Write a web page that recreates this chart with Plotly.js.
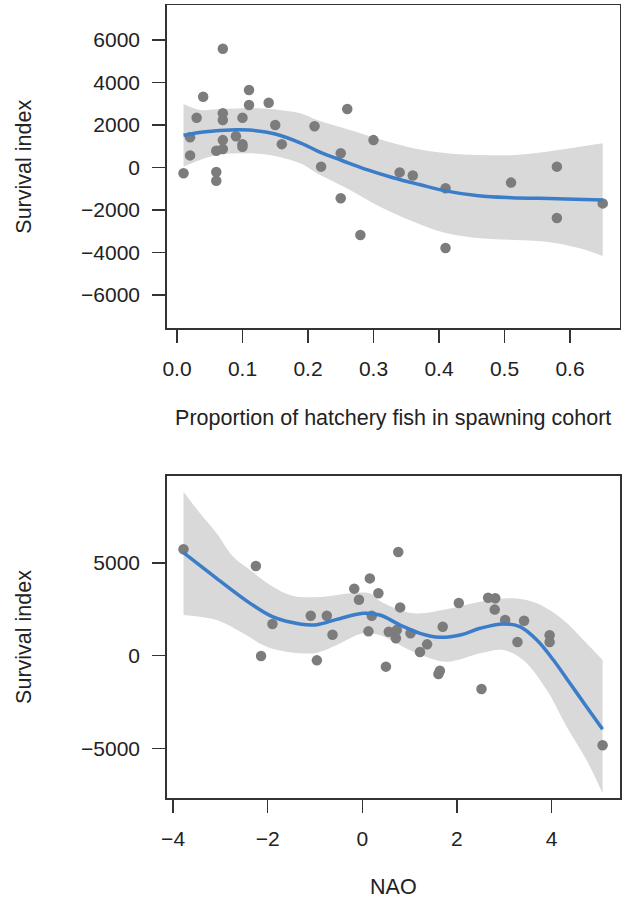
<!DOCTYPE html>
<html>
<head>
<meta charset="utf-8">
<script src="https://cdn.plot.ly/plotly-3.0.1.min.js"></script>
<style>html,body{margin:0;padding:0;background:#fff;}#chart{width:626px;height:899px;}</style>
</head>
<body>
<div id="chart"></div>
<script>
// ---- Panel 1: proportion of hatchery fish ----
const hatchX = [0.01,0.02,0.02,0.03,0.04,0.06,0.06,0.06,0.07,0.07,0.07,0.07,0.07,0.09,0.10,0.10,0.10,0.11,0.11,0.14,0.15,0.16,0.21,0.22,0.25,0.25,0.26,0.28,0.30,0.34,0.36,0.41,0.41,0.51,0.58,0.58,0.65];
const hatchY = [-270,1420,570,2340,3330,-210,-620,790,5590,2550,2235,1290,870,1470,2340,1100,980,3650,2940,3050,2000,1100,1940,40,670,-1450,2750,-3180,1290,-230,-380,-980,-3790,-710,40,-2380,-1690];
const hatchFitX = [0.01,0.04,0.09,0.11,0.15,0.19,0.22,0.25,0.29,0.33,0.37,0.41,0.46,0.51,0.58,0.65];
const hatchFitY = [1515,1670,1780,1765,1576,1137,698,353,-100,-480,-800,-1100,-1330,-1420,-1467,-1529];
const hatchBandX = [0.01,0.035,0.061,0.112,0.142,0.188,0.214,0.264,0.31,0.361,0.412,0.463,0.514,0.564,0.615,0.65];
const hatchBandUp = [2988,2706,2737,2784,2753,2549,2235,1765,1325,902,666,588,588,745,980,1137];
const hatchBandLo = [38,353,588,666,588,196,-274,-1059,-1843,-2549,-3098,-3333,-3412,-3490,-3804,-4165];
const hatchTickVals = [0,0.1,0.2,0.3,0.4,0.5,0.6];
const hatchTickText = ['0.0','0.1','0.2','0.3','0.4','0.5','0.6'];
const surv1TickVals = [-6000,-4000,-2000,0,2000,4000,6000];
const surv1TickText = ['\u22126000','\u22124000','\u22122000','0','2000','4000','6000'];

// ---- Panel 2: NAO ----
const naoX = [-3.78,-2.25,-2.14,-1.90,-1.09,-0.96,-0.75,-0.63,-0.17,-0.07,0.13,0.16,0.20,0.34,0.50,0.56,0.71,0.73,0.76,0.80,1.02,1.22,1.37,1.61,1.64,1.70,2.04,2.52,2.66,2.80,2.81,3.02,3.28,3.42,3.96,3.96,5.08];
const naoY = [5730,4830,-20,1710,2150,-250,2150,1130,3610,3010,1310,4160,2150,3360,-590,1290,940,1380,5580,2600,1210,200,610,-985,-810,1560,2840,-1790,3120,2480,3090,1920,740,1880,1100,740,-4820];
const naoFitX = [-3.78,-3.08,-2.37,-1.90,-1.32,-0.96,-0.54,0.02,0.37,0.80,1.22,1.64,2.07,2.49,2.98,3.33,3.69,4.04,4.39,4.74,5.08];
const naoFitY = [5544,4164,2818,2100,1706,1670,1957,2280,2190,1652,1205,990,1114,1474,1706,1561,845,-231,-1486,-2745,-3961];
const naoBandUpX = [-3.78,-3.43,-3.08,-2.73,-2.37,-1.95,-1.46,-0.82,-0.26,0.16,0.37,1.08,1.78,2.49,3.19,3.69,4.25,4.74,5.08];
const naoBandUp = [8827,7664,6588,5328,4613,3805,3213,3176,3357,3357,2950,2280,2497,2907,3087,2818,1921,666,-231];
const naoBandLoX = [-3.78,-3.08,-2.52,-2.02,-1.46,-0.96,-0.54,0.02,0.37,1.08,1.78,2.49,2.98,3.40,3.90,4.32,4.74,5.08];
const naoBandLo = [2190,1921,1205,484,161,161,576,1205,1100,215,-323,129,307,-231,-1846,-3821,-5614,-7406];
const naoTickVals = [-4,-2,0,2,4];
const naoTickText = ['\u22124','\u22122','0','2','4'];
const surv2TickVals = [-5000,0,5000];
const surv2TickText = ['\u22125000','0','5000'];

const FONT = 'Liberation Sans, Arial, Helvetica, sans-serif';
const BAND = '#d9d9d9', PT = '#7c7c7c', LINE = '#3b7dc8';

function bandTraces(xl, yl, xu, yu, xa, ya){
  return [
    {x:xl, y:yl, xaxis:xa, yaxis:ya, mode:'lines', line:{width:0, shape:'spline', color:BAND}, hoverinfo:'skip', showlegend:false},
    {x:xu, y:yu, xaxis:xa, yaxis:ya, mode:'lines', fill:'tonexty', fillcolor:BAND, line:{width:0, shape:'spline', color:BAND}, hoverinfo:'skip', showlegend:false}
  ];
}

const data = [].concat(
  bandTraces(hatchBandX, hatchBandLo, hatchBandX, hatchBandUp, 'x', 'y'),
  [{x:hatchX, y:hatchY, xaxis:'x', yaxis:'y', mode:'markers', marker:{color:PT, size:10.5}, showlegend:false},
   {x:hatchFitX, y:hatchFitY, xaxis:'x', yaxis:'y', mode:'lines', line:{color:LINE, width:3.5, shape:'spline'}, showlegend:false}],
  bandTraces(naoBandLoX, naoBandLo, naoBandUpX, naoBandUp, 'x2', 'y2'),
  [{x:naoX, y:naoY, xaxis:'x2', yaxis:'y2', mode:'markers', marker:{color:PT, size:10.5}, showlegend:false},
   {x:naoFitX, y:naoFitY, xaxis:'x2', yaxis:'y2', mode:'lines', line:{color:LINE, width:3.5, shape:'spline'}, showlegend:false}]
);

const axBase = {
  showline:true, mirror:true, linecolor:'#333', linewidth:1.5,
  ticks:'outside', ticklen:13, tickwidth:1.5, tickcolor:'#333',
  showgrid:false, zeroline:false, automargin:false, ticklabelstandoff:8,
  tickfont:{family:FONT, size:21, color:'#222'}
};
const titleFont = {family:FONT, size:21.5, color:'#222'};

const layout = {
  width:626, height:899,
  margin:{l:0, r:0, t:0, b:0},
  paper_bgcolor:'#fff', plot_bgcolor:'#fff',
  showlegend:false,
  xaxis: Object.assign({}, axBase, {
    domain:[166.7/626, 619.7/626], range:[-0.0157, 0.6759], anchor:'y',
    tickmode:'array', tickvals:hatchTickVals, ticktext:hatchTickText,
    title:{text:'Proportion of hatchery fish in spawning cohort', font:titleFont, standoff:31}
  }),
  yaxis: Object.assign({}, axBase, {
    domain:[1-328.3/899, 1-5.3/899], range:[-7567, 7633], anchor:'x',
    tickmode:'array', tickvals:surv1TickVals, ticktext:surv1TickText,
    title:{text:'Survival index', font:titleFont, standoff:43}
  }),
  xaxis2: Object.assign({}, axBase, {
    domain:[166.7/626, 620/626], range:[-4.135, 5.448], anchor:'y2',
    tickmode:'array', tickvals:naoTickVals, ticktext:naoTickText,
    title:{text:'NAO', font:titleFont, standoff:31}
  }),
  yaxis2: Object.assign({}, axBase, {
    domain:[1-798.3/899, 1-475.7/899], range:[-7675, 9688], anchor:'x2',
    tickmode:'array', tickvals:surv2TickVals, ticktext:surv2TickText,
    title:{text:'Survival index', font:titleFont, standoff:43}
  })
};

Plotly.newPlot('chart', data, layout, {staticPlot:true, displayModeBar:false});
</script>
</body>
</html>
